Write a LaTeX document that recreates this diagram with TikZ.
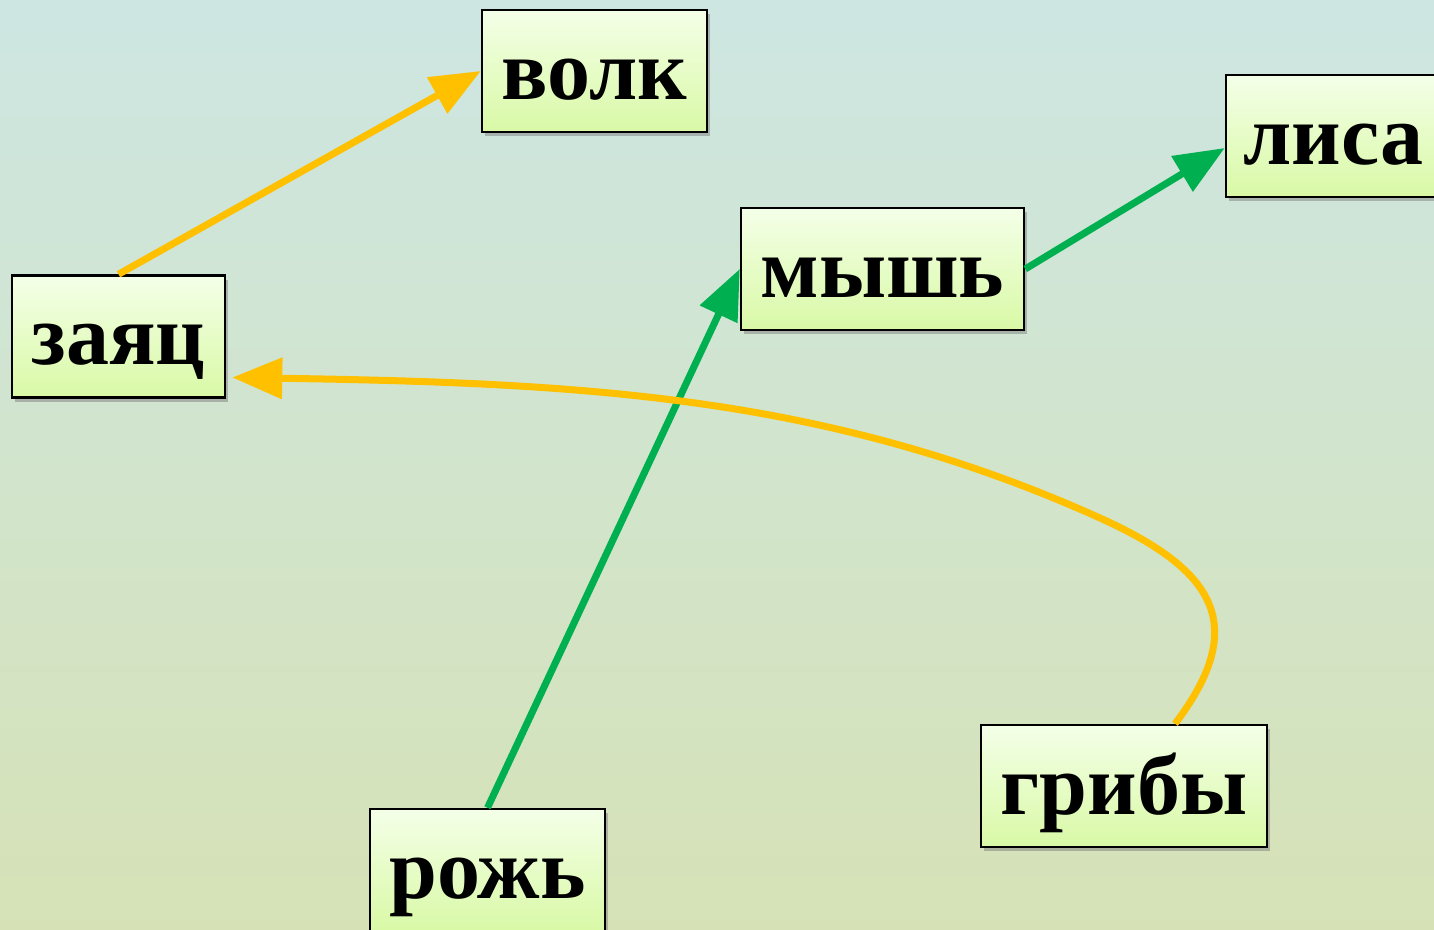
\documentclass[tikz,border=0pt]{standalone}
\usepackage{fontspec}
\setmainfont{Liberation Serif}
\usetikzlibrary{arrows.meta,shadows}

\definecolor{bgtop}{RGB}{205,230,226}
\definecolor{bgbot}{RGB}{214,226,182}
\definecolor{boxtop}{RGB}{244,255,232}
\definecolor{boxbot}{RGB}{217,249,166}
\definecolor{orangeline}{RGB}{255,192,0}
\definecolor{greenline}{RGB}{0,176,80}

\begin{document}
\begin{tikzpicture}
                [x=1pt,y=-1pt,
                word/.style={draw=black,line width=2.5pt,top color=boxtop,bottom color=boxbot,
                  minimum height=122pt,inner sep=0pt,text height=78pt,text depth=22pt,
                  font=\bfseries\fontsize{86pt}{100pt}\selectfont,
                  drop shadow={opacity=0.5,shadow xshift=3pt,shadow yshift=-4pt}},
                eat/.style={line width=7pt,-{Triangle[length=50pt,width=40pt]}}]
                \path[use as bounding box,top color=bgtop,bottom color=bgbot] (0,0) rectangle (1434,929);
                \node[word,minimum width=225pt] (volk) at (594.5,71) {волк};
                \node[word,minimum width=215pt] (lisa) at (1333.5,136) {лиса};
                \node[word,minimum width=283pt] (mysh) at (882.5,269) {мышь};
                \node[word,minimum width=213pt] (zayac) at (118.5,336.5) {заяц};
                \node[word,minimum width=286pt] (griby) at (1124,786) {грибы};
                \node[word,minimum width=235pt] (rozh) at (487.5,870) {рожь};
                % who eats whom
                \draw[eat,orangeline] (zayac.north) -- (volk.west);
                \draw[eat,greenline] (rozh.north) -- (mysh.west);
                \draw[eat,greenline] (mysh.east) -- ([yshift=-12pt]lisa.west);
                \draw[eat,orangeline] ([xshift=51pt]griby.north)
                    .. controls (1250,625) and (1215,570) .. (1100,518)
                    .. controls (827,395) and (582,383) .. ([shift={(6pt,-41pt)}]zayac.east);
            \end{tikzpicture}
\end{document}
